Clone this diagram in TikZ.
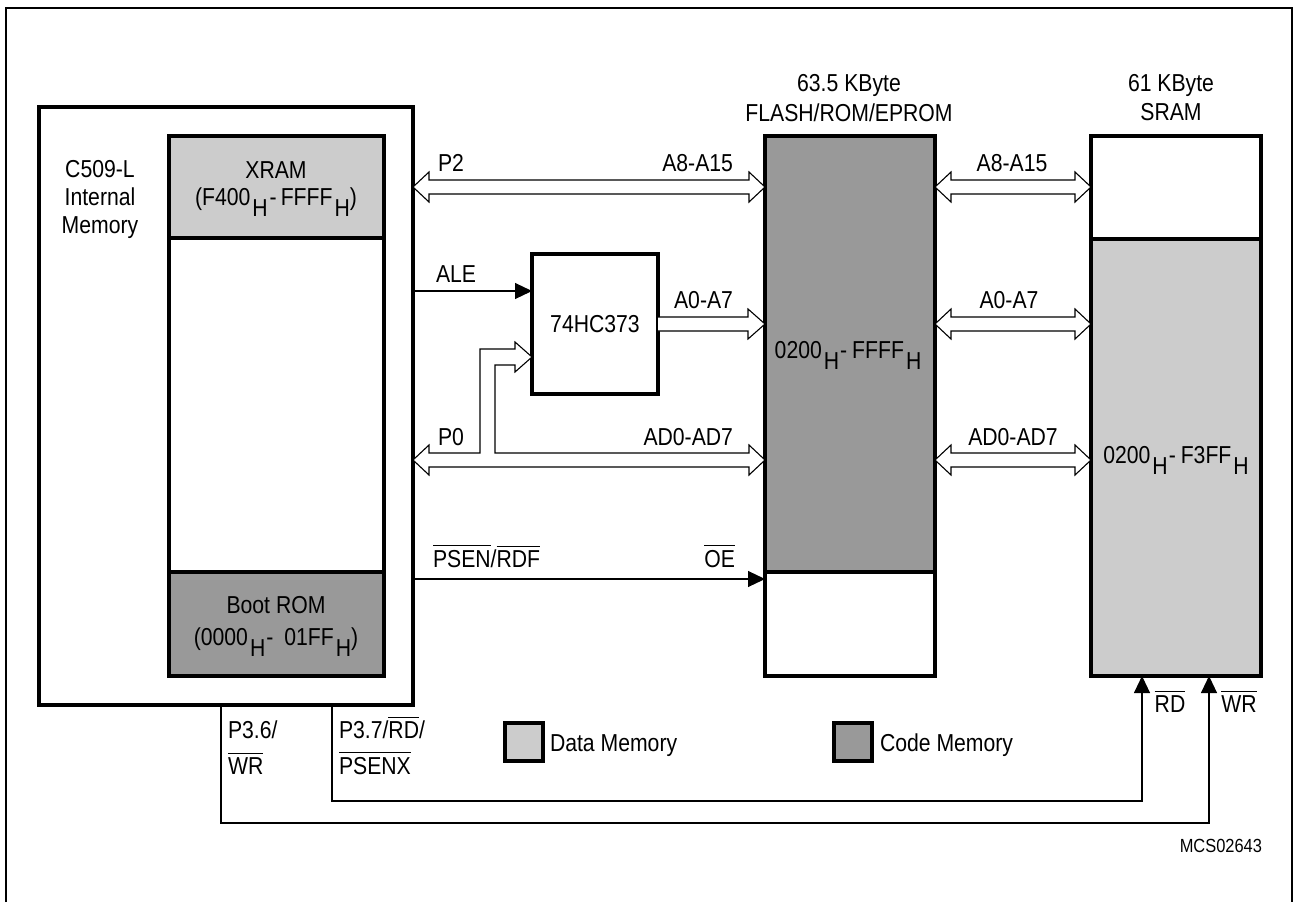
\documentclass[tikz,border=0pt]{standalone}
\usepackage{fontspec}
\setmainfont{Liberation Sans}[FakeStretch=0.865]
\usetikzlibrary{arrows.meta,calc}
\definecolor{lgray}{HTML}{CCCCCC}
\definecolor{dgray}{HTML}{999999}
\newcommand\ovl[1]{\vbox{\hrule height 1pt\kern3.5pt\hbox{#1}}}
\newcommand\hx[1]{#1\kern2pt\raisebox{-11pt}{H}}
\newcommand\dbus[2]{\draw[busln] (#1) -- ++(16,-15) -- ++(0,8) -- ($(#2)+(-16,-7)$) -- ++(0,-8) -- (#2) -- ++(-16,15) -- ++(0,-8) -- ($(#1)+(16,7)$) -- ++(0,8) -- cycle;}
\begin{document}
\begin{tikzpicture}[x=1pt,y=-1pt,
  font=\fontsize{24.5}{28}\selectfont,
  blk/.style={draw,line width=3.5pt,inner sep=0pt,outer sep=0pt,anchor=north west},
  lbl/.style={inner sep=0pt,outer sep=0pt},
  busln/.style={draw,fill=white,line width=1.1pt,line join=miter},
  sig/.style={draw,line width=1.1pt},
  tip/.style={-{Triangle[length=17pt,width=16pt]}}
]
\useasboundingbox (0,0) rectangle (1297,902);
\fill[white] (0,0) rectangle (1297,902);
\draw[line width=2pt] (6,902) -- (6,8) -- (1292,8) -- (1292,902);

% blocks
\node[blk,minimum width=374pt,minimum height=598pt] (c509) at (39,107) {};
\node[blk,fill=lgray,minimum width=215pt,minimum height=102pt] (xram) at (169,136) {};
\node[blk,minimum width=215pt,minimum height=334pt] (xmid) at (169,238) {};
\node[blk,fill=dgray,minimum width=215pt,minimum height=104pt] (boot) at (169,572) {};
\node[blk,fill=dgray,minimum width=170pt,minimum height=436pt] (flashA) at (765,136) {};
\node[blk,minimum width=170pt,minimum height=104pt] (flashB) at (765,572) {};
\node[blk,minimum width=170pt,minimum height=103pt] (sramA) at (1091,136) {};
\node[blk,fill=lgray,minimum width=170pt,minimum height=437pt] (sramB) at (1091,239) {};

% block texts
\node[lbl,anchor=base] (t1) at (100,177) {C509-L};
\node[lbl,anchor=base] (t2) at (100,205) {Internal};
\node[lbl,anchor=base] (t3) at (100,233) {Memory};
\node[lbl,anchor=base] (tx1) at (276,178) {XRAM};
\node[lbl,anchor=base] (tx2) at (276,205) {(\hx{F400}\kern2pt-\kern4pt\hx{FFFF})};
\node[lbl,anchor=base] (tb1) at (276,613) {Boot ROM};
\node[lbl,anchor=base] (tb2) at (276,645) {(\hx{0000}\kern1pt-\kern11pt\hx{01FF})};
\node[lbl,anchor=base] (tf1) at (849,91) {63.5 KByte};
\node[lbl,anchor=base] (tf2) at (849,121) {FLASH/ROM/EPROM};
\node[lbl,anchor=base] (ts1) at (1171,91) {61 KByte};
\node[lbl,anchor=base] (ts2) at (1171,120) {SRAM};
\node[lbl,anchor=base] (tf3) at (848,358) {\hx{0200}\kern1pt-\kern5pt\hx{FFFF}};
\node[lbl,anchor=base] (ts3) at (1176,463) {\hx{0200}\kern1pt-\kern5pt\hx{F3FF}};

% bus end points
\coordinate (p2l) at (c509.east |- 0,187);
\coordinate (p2r) at (flashA.west |- 0,187);
\coordinate (p0l) at (c509.east |- 0,460);
\coordinate (p0r) at (flashA.west |- 0,460);
\coordinate (ra1) at (flashA.east |- 0,187);
\coordinate (rb1) at (sramA.west |- 0,187);
\coordinate (ra2) at (flashA.east |- 0,324);
\coordinate (rb2) at (sramB.west |- 0,324);
\coordinate (ra3) at (flashA.east |- 0,460);
\coordinate (rb3) at (sramB.west |- 0,460);

\dbus{p2l}{p2r}
\dbus{ra1}{rb1}
\dbus{ra2}{rb2}
\dbus{ra3}{rb3}

% latch
\node[blk,minimum width=126pt,minimum height=140pt,anchor=north west] (latch) at (532,254) {74HC373};
\coordinate (lt) at (latch.west |- 0,357);
\coordinate (la0) at (latch.east |- 0,324);
\coordinate (fa0) at (flashA.west |- 0,324);

% P0 bus with branch to latch
\draw[busln] (p0l) -- ++(16,-15) -- ++(0,8) -- (480,453) -- (480,349)
  -- ($(lt)+(-17,-8)$) -- ($(lt)+(-17,-15)$) -- (lt) -- ($(lt)+(-17,15)$) -- ($(lt)+(-17,8)$)
  -- (495,365) -- (495,453) -- ($(p0r)+(-16,-7)$) -- ++(0,-8) -- (p0r) -- ++(-16,15) -- ++(0,-8)
  -- ($(p0l)+(16,7)$) -- ++(0,8) -- cycle;

% A0-A7 from latch
\draw[busln] ($(la0)+(0,-7)$) -- ($(fa0)+(-17,-7)$) -- ($(fa0)+(-17,-15)$) -- (fa0) -- ($(fa0)+(-17,15)$) -- ($(fa0)+(-17,7)$) -- ($(la0)+(0,7)$);

% signal arrows
\draw[sig,tip] (c509.east |- 0,291) -- (latch.west |- 0,291);
\draw[sig,tip] (c509.east |- 0,579) -- (flashB.west |- 0,579);
\coordinate (rdturn) at (1142,801);
\coordinate (wrturn) at (1209,823);
\draw[sig,tip] (c509.south -| 332,0) |- (rdturn) -- (sramB.south -| rdturn);
\draw[sig,tip] (c509.south -| 221,0) |- (wrturn) -- (sramB.south -| wrturn);

% labels
\node[lbl,anchor=base west] (lp2) at (438,171) {P2};
\node[lbl,anchor=base east] (la815) at (733,171) {A8-A15};
\node[lbl,anchor=base west] (lale) at (436,282) {ALE};
\node[lbl,anchor=base east] (la07) at (733,308) {A0-A7};
\node[lbl,anchor=base west] (lp0) at (438,445) {P0};
\node[lbl,anchor=base east] (lad) at (733,445) {AD0-AD7};
\node[lbl,anchor=base west] (lpsen) at (433,567) {\ovl{PSEN}/\ovl{RDF}};
\node[lbl,anchor=base east] (loe) at (735,567) {\ovl{OE}};
\node[lbl,anchor=base] (ra815) at (1012,171) {A8-A15};
\node[lbl,anchor=base] (ra07) at (1009,308) {A0-A7};
\node[lbl,anchor=base] (rad) at (1013,445) {AD0-AD7};
\node[lbl,anchor=base west] (lp36a) at (228,738) {P3.6/};
\node[lbl,anchor=base west] (lp36b) at (228,774) {\ovl{WR}};
\node[lbl,anchor=base west] (lp37a) at (339,738) {P3.7/\ovl{RD}/};
\node[lbl,anchor=base west] (lp37b) at (339,774) {\ovl{PSENX}};
\node[lbl,anchor=base] (lrd) at (1170,712) {\ovl{RD}};
\node[lbl,anchor=base] (lwr) at (1239,712) {\ovl{WR}};

% legend
\node[blk,fill=lgray,minimum width=38pt,minimum height=38pt] (legd) at (505,723) {};
\node[lbl,anchor=base west] (legdt) at (550,751) {Data Memory};
\node[blk,fill=dgray,minimum width=38pt,minimum height=38pt] (legc) at (834,723) {};
\node[lbl,anchor=base west] (legct) at (880,751) {Code Memory};

\node[lbl,anchor=base east,font=\fontsize{19}{20}\selectfont] (mcs) at (1262,852) {MCS02643};
\end{tikzpicture}
\end{document}
